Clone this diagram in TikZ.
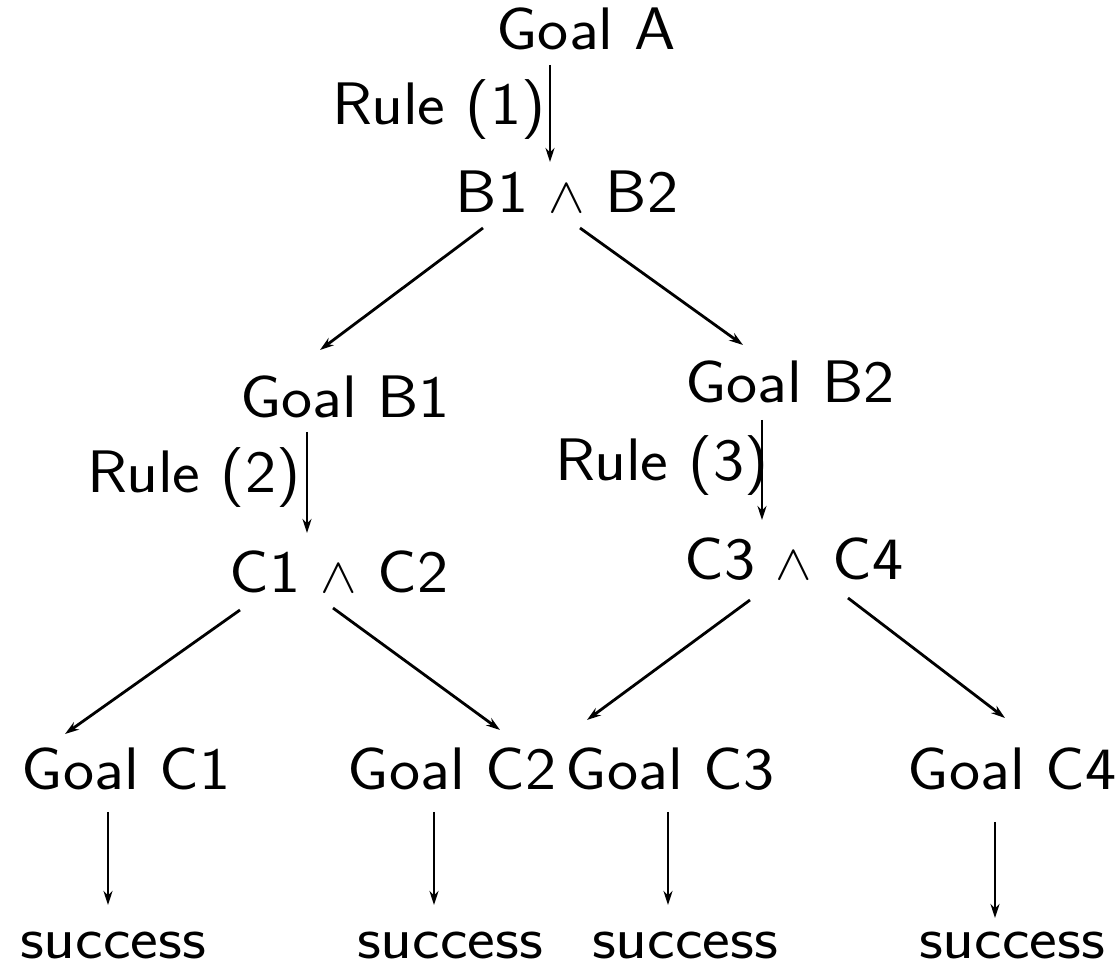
\documentclass[tikz,border=0pt]{standalone}
\usetikzlibrary{arrows.meta,calc}
\newcommand\wtxt[1]{\scalebox{1.1}[1]{#1}}
\begin{document}
\begin{tikzpicture}[x=0.5pt,y=-0.5pt,
  lbl/.style={font=\fontsize{30}{36}\selectfont\sffamily,inner sep=0pt,anchor=base},
  arr/.style={-{Stealth[length=7pt,width=4.5pt]},line width=1.4pt}]
\useasboundingbox (0,0) rectangle (1120,967);
\node[lbl] (A) at (586,50) {\wtxt{Goal A}};
\node[lbl] (r1) at (439,125) {\wtxt{Rule (1)}};
\node[lbl] (B) at (567,213) {\wtxt{B1 $\wedge$ B2}};
\node[lbl] (GB1) at (345,418) {\wtxt{Goal B1}};
\node[lbl] (GB2) at (790,403) {\wtxt{Goal B2}};
\node[lbl] (r2) at (194,493) {\wtxt{Rule (2)}};
\node[lbl] (r3) at (662,481) {\wtxt{Rule (3)}};
\node[lbl] (C12) at (339,593) {\wtxt{C1 $\wedge$ C2}};
\node[lbl] (C34) at (794,580) {\wtxt{C3 $\wedge$ C4}};
\node[lbl] (GC1) at (126,790) {\wtxt{Goal C1}};
\node[lbl] (GC2) at (452,790) {\wtxt{Goal C2}};
\node[lbl] (GC3) at (670,790) {\wtxt{Goal C3}};
\node[lbl] (GC4) at (1012,790) {\wtxt{Goal C4}};
\node[lbl] (S1) at (113,958) {\wtxt{success}};
\node[lbl] (S2) at (450,958) {\wtxt{success}};
\node[lbl] (S3) at (685,958) {\wtxt{success}};
\node[lbl] (S4) at (1012,958) {\wtxt{success}};
\draw[arr] ($(A.base)+(-36,15)$) -- ($(B.base)+(-17,-51)$);
\draw[arr] ($(B.base)+(-84,15)$) -- ($(GB1.base)+(-25,-68)$);
\draw[arr] ($(B.base)+(13,15)$) -- ($(GB2.base)+(-47,-58)$);
\draw[arr] ($(GB1.base)+(-38,14)$) -- ($(C12.base)+(-32,-60)$);
\draw[arr] ($(GB2.base)+(-28,17)$) -- ($(C34.base)+(-32,-60)$);
\draw[arr] ($(C12.base)+(-99,17)$) -- ($(GC1.base)+(-61,-56)$);
\draw[arr] ($(C12.base)+(-6,15)$) -- ($(GC2.base)+(48,-60)$);
\draw[arr] ($(C34.base)+(-44,20)$) -- ($(GC3.base)+(-83,-70)$);
\draw[arr] ($(C34.base)+(54,18)$) -- ($(GC4.base)+(-7,-72)$);
\draw[arr] ($(GC1.base)+(-18,22)$) -- ($(S1.base)+(-5,-53)$);
\draw[arr] ($(GC2.base)+(-18,22)$) -- ($(S2.base)+(-16,-53)$);
\draw[arr] ($(GC3.base)+(-2,22)$) -- ($(S3.base)+(-17,-53)$);
\draw[arr] ($(GC4.base)+(-17,32)$) -- ($(S4.base)+(-17,-40)$);
\end{tikzpicture}
\end{document}
